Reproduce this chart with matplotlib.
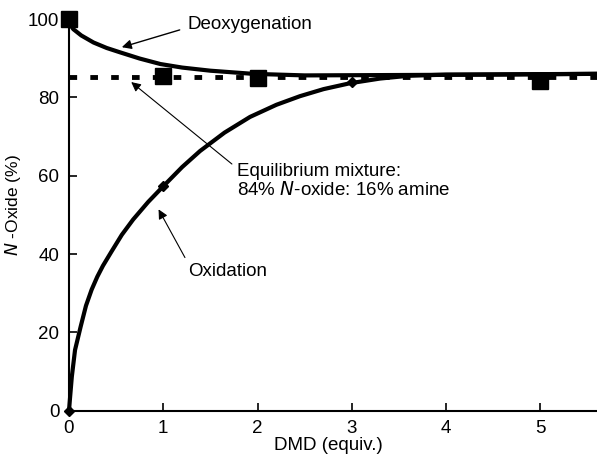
import matplotlib
matplotlib.use("Agg")
import matplotlib.pyplot as plt

plt.rcParams['font.family'] = ['Liberation Sans', 'DejaVu Sans']
plt.rcParams['lines.scale_dashes'] = False

# Measured data points
deoxy_x = [0, 1, 2, 5]
deoxy_y = [100, 85.5, 84.9, 84.2]
oxid_x = [0, 1, 3]
oxid_y = [0, 57.3, 83.8]

# Fitted curves
deoxy_curve_x = [0.0, 0.046, 0.13, 0.26, 0.40, 0.54, 0.75, 0.97, 1.2, 1.5, 1.95, 2.5, 3.5, 4.5, 5.6]
deoxy_curve_y = [99.0, 97.4, 95.8, 94.0, 92.6, 91.5, 89.9, 88.5, 87.6, 86.8, 86.0, 85.6, 85.7, 85.8, 86.0]
oxid_curve_x = [0.0, 0.01, 0.03, 0.064, 0.124, 0.18, 0.24, 0.30, 0.36, 0.45, 0.56, 0.68, 0.84, 1.0, 1.2, 1.39, 1.65, 1.92, 2.2, 2.45, 2.7, 2.98, 3.3, 3.6, 4.0, 5.6]
oxid_curve_y = [0.0, 3.0, 8.7, 15.5, 21.5, 26.8, 30.9, 34.2, 37.0, 40.6, 44.9, 48.8, 53.3, 57.3, 62.2, 66.3, 71.0, 75.0, 78.1, 80.3, 82.1, 83.6, 84.8, 85.5, 85.8, 86.0]
equilibrium = 85.1

xticks = [0, 1, 2, 3, 4, 5]
yticks = [0, 20, 40, 60, 80, 100]

fig = plt.figure(figsize=(5.97, 4.54), dpi=100)
ax = fig.add_axes([69/597, (454-410.7)/454, 528/597, 391.7/454])

ax.plot([0, 5.6], [equilibrium, equilibrium], color='black', lw=3.5,
        dashes=(5.5, 9.5), dash_capstyle='butt', zorder=2, clip_on=False)
ax.plot(deoxy_curve_x, deoxy_curve_y, color='black', lw=3, solid_capstyle='round', zorder=3, clip_on=False)
ax.plot(oxid_curve_x, oxid_curve_y, color='black', lw=3, solid_capstyle='round', zorder=3, clip_on=False)
ax.plot(deoxy_x, deoxy_y, 's', color='black', ms=12, zorder=4, clip_on=False)
ax.plot(oxid_x, oxid_y, 'D', color='black', ms=5.5, zorder=4, clip_on=False)

ax.set_xlim(0, 5.6)
ax.set_ylim(0, 100)
ax.set_xticks(xticks)
ax.set_yticks(yticks)
ax.tick_params(direction='in', length=6, width=1.2, labelsize=13.5, pad=7)
for s in ['top', 'right']:
    ax.spines[s].set_visible(False)
for s in ['left', 'bottom']:
    ax.spines[s].set_linewidth(1.5)

ax.set_xlabel('DMD (equiv.)', fontsize=13.5)
ax.xaxis.set_label_coords(0.492, -0.088)
ax.xaxis.label.set_va('center')
ax.set_ylabel(r'$\mathit{N}$ -Oxide (%)', fontsize=12.5)
ax.yaxis.set_label_coords(-0.106, 0.525)
ax.yaxis.label.set_va('center')

ax.annotate('Deoxygenation', xy=(0.56, 92.8), xytext=(1.26, 98.7), fontsize=13.5,
            va='center', ha='left', arrowprops=dict(arrowstyle='-|>', color='black', lw=1.0,
            mutation_scale=14, shrinkA=4, shrinkB=0, relpos=(0, 0.3)))
ax.annotate('Equilibrium mixture:\n84% $\\mathit{N}$-oxide: 16% amine', xy=(0.66, 83.9), xytext=(1.78, 58.7),
            fontsize=13.5, va='center', ha='left', linespacing=1.1,
            arrowprops=dict(arrowstyle='-|>', color='black', lw=0.8, mutation_scale=14,
                            shrinkA=2, shrinkB=0, relpos=(0, 0.85)))
ax.annotate('Oxidation', xy=(0.95, 51.4), xytext=(1.26, 35.6), fontsize=13.5,
            va='center', ha='left',
            arrowprops=dict(arrowstyle='-|>', color='black', lw=0.8, mutation_scale=14,
                            shrinkA=2, shrinkB=0, relpos=(0, 1.0)))

fig.savefig('out.png', dpi=100)
